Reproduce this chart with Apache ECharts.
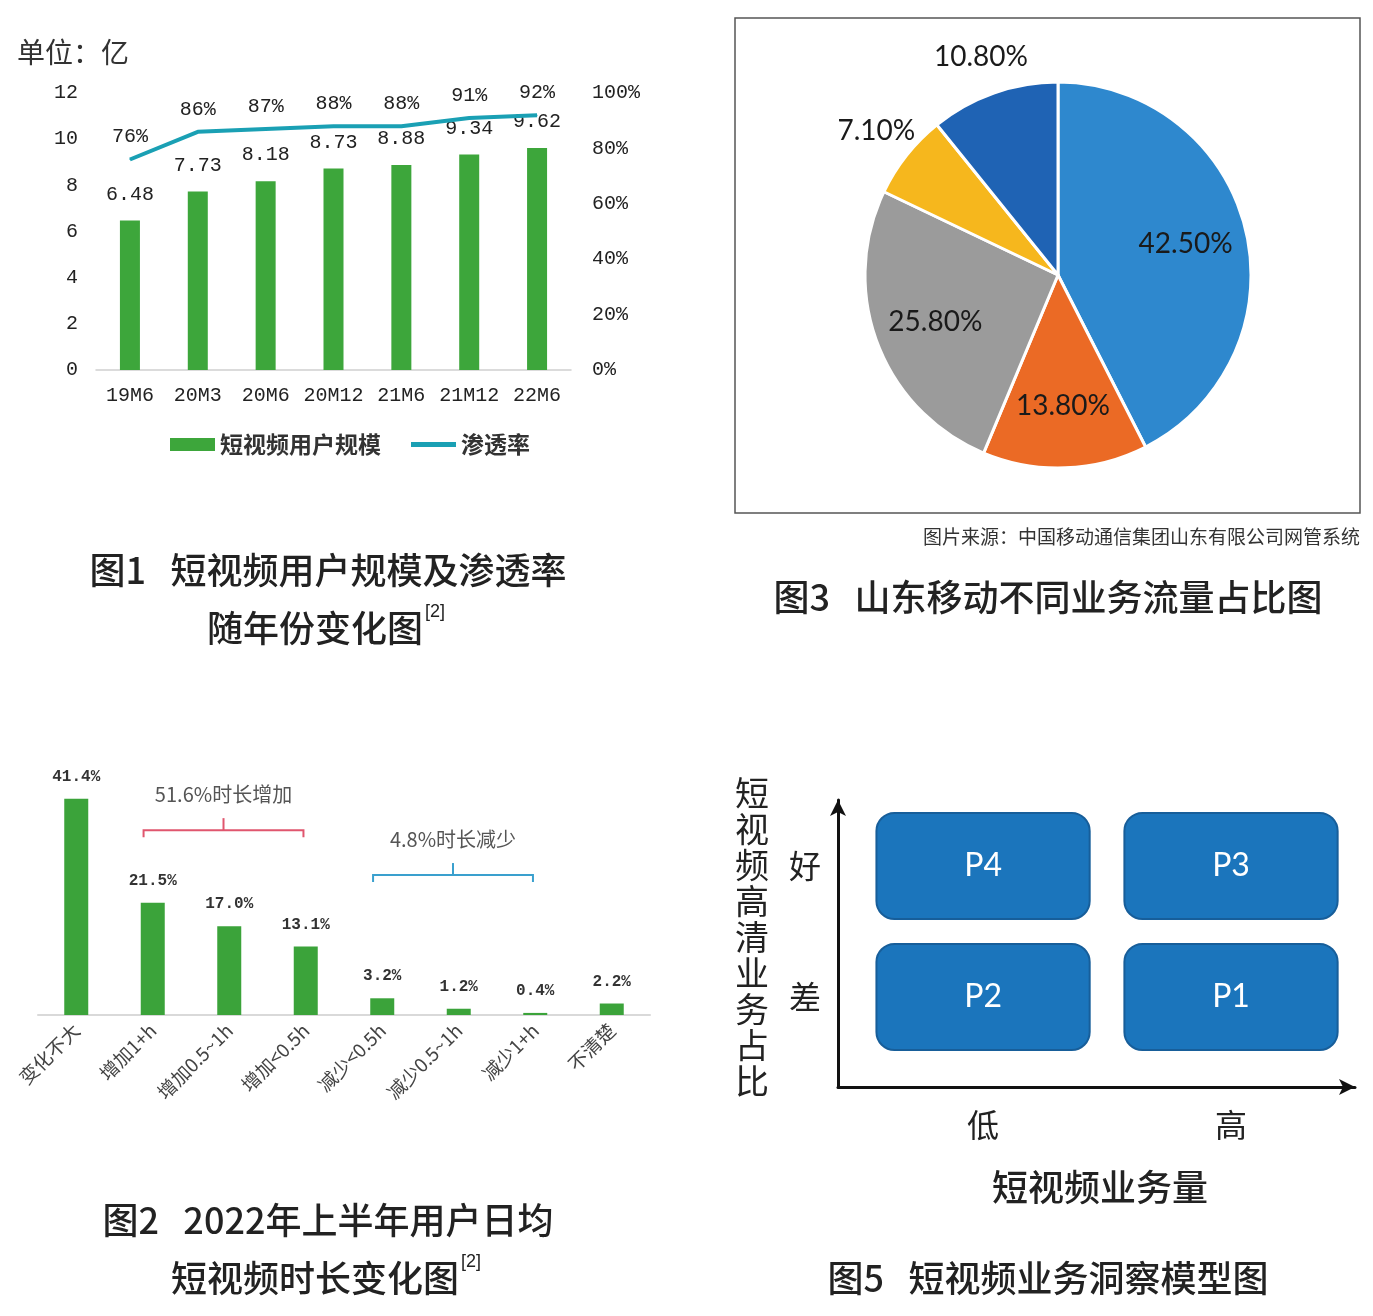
<!DOCTYPE html>
<html>
<head>
<meta charset="utf-8">
<title>短视频图表</title>
<script src="https://cdn.jsdelivr.net/npm/echarts@6/dist/echarts.min.js"></script>
<style>
  html, body { margin: 0; padding: 0; background: #fff; }
  #main { width: 1373px; height: 1316px; }
</style>
</head>
<body>
<div id="main"></div>
<script>
// 图1 data
var months = ['19M6', '20M3', '20M6', '20M12', '21M6', '21M12', '22M6'];
var userScale = [6.48, 7.73, 8.18, 8.73, 8.88, 9.34, 9.62];
var penetration = [76, 86, 87, 88, 88, 91, 92];
var scaleTicks = [0, 12, 2];

// 图2 data
var durCats = ['变化不大', '增加1+h', '增加0.5~1h', '增加<0.5h', '减少<0.5h', '减少0.5~1h', '减少1+h', '不清楚'];
var durShare = [41.4, 21.5, 17.0, 13.1, 3.2, 1.2, 0.4, 2.2];
var bracketSpans = [[1, 3], [4, 6]];
var bracketText = ['51.6%时长增加', '4.8%时长减少'];
var bracketLevel = [35.4, 26.8];

// 图3 data
var pieVals = [42.5, 13.8, 25.8, 7.1, 10.8];

// 图5 data (0 = 低/差, 1 = 高/好)
var volCats = ['低', '高'];
var hdCats = ['差', '好'];
var quadX = [0, 1, 0, 1];
var quadY = [1, 1, 0, 0];
var quadNames = ['P4', 'P3', 'P2', 'P1'];

var CJK = '"Noto Sans CJK SC"';
var MONO = '"Liberation Mono", monospace';

var pieColors = ['#2E88CE', '#EB6A25', '#9B9B9B', '#F6B71D', '#1F63B4'];
var bracketColors = ['#E0566E', '#3AA0CE'];
var pieCenter = [1058, 275];
var pieR = 193;

// mid angle of every slice, clockwise from 12 o'clock
var pieTotal = 0;
pieVals.forEach(function(v) { pieTotal += v; });
var pieMid = [];
var acc = 0;
for (var i = 0; i < pieVals.length; i++) {
    pieMid.push((acc + pieVals[i] / 2) / pieTotal * Math.PI * 2);
    acc += pieVals[i];
}

var chart = echarts.init(document.getElementById('main'));

function bracketItem(params, api) {
    var a = api.coord([api.value(0), api.value(2)]);
    var b = api.coord([api.value(1), api.value(2)]);
    var band = api.size([1, 0])[0];
    var x0 = a[0] - band * 0.12, x1 = b[0] - band * 0.03, y = a[1];
    var mid = (x0 + x1) / 2;
    var col = bracketColors[params.dataIndex];
    return {
        type: 'group',
        children: [
            { type: 'polyline', shape: { points: [[x0, y + 7], [x0, y], [x1, y], [x1, y + 7]] },
              style: { stroke: col, lineWidth: 2, fill: null } },
            { type: 'line', shape: { x1: mid, y1: y, x2: mid, y2: y - 12 },
              style: { stroke: col, lineWidth: 2 } },
            { type: 'text', x: mid, y: y - 36,
              style: { text: bracketText[params.dataIndex], font: '20px ' + CJK, fill: '#555',
                       align: 'center', verticalAlign: 'middle', textAlign: 'center', textVerticalAlign: 'middle' } }
        ]
    };
}

function quadItem(params, api) {
    var c = api.coord([api.value(0), api.value(1)]);
    var s = api.size([1, 1]);
    var w = s[0] * 0.86, h = s[1] * 0.81;
    return {
        type: 'rect',
        shape: { x: c[0] - w / 2, y: c[1] - h / 2, width: w, height: h, r: 18 },
        style: { fill: '#1B75BC', stroke: '#175E9A', lineWidth: 2 },
        textContent: { style: { text: quadNames[params.dataIndex], fill: '#fff', font: '32px Lato' } },
        textConfig: { position: 'inside' }
    };
}

function txt(x, y, s, size, align) {
    return {
        type: 'text', x: x, y: y, silent: true,
        style: { text: s, font: '500 ' + size + 'px ' + CJK, fill: '#222',
                 align: align || 'center', textAlign: align || 'center',
                 verticalAlign: 'middle', textVerticalAlign: 'middle' }
    };
}

function sup(x, y) {
    return {
        type: 'text', x: x, y: y, silent: true,
        style: { text: '[2]', font: '18px "Liberation Sans"', fill: '#222',
                 align: 'left', textAlign: 'left', verticalAlign: 'middle', textVerticalAlign: 'middle' }
    };
}

var arrowAxisLine = {
    show: true, onZero: false, symbol: ['none', 'arrow'], symbolSize: [12, 16],
    lineStyle: { color: '#111', width: 3 }
};

var option = {
    animation: false,
    textStyle: { fontFamily: CJK },
    legend: {
        left: 165, top: 428, itemWidth: 45, itemHeight: 13, itemGap: 30,
        textStyle: { fontSize: 23, color: '#333', fontWeight: 'bold', fontFamily: CJK },
        data: [
            { name: '短视频用户规模', icon: 'rect' },
            { name: '渗透率', icon: 'path://M0,0H47V5H0Z' }
        ]
    },
    grid: [
        { left: 96, right: 802, top: 93, bottom: 946, outerBoundsMode: 'none' },
        { left: 38, right: 723, top: 780, bottom: 301, outerBoundsMode: 'none' },
        { left: 838, right: 18, top: 800, bottom: 229, outerBoundsMode: 'none' }
    ],
    xAxis: [
        { type: 'category', gridIndex: 0, data: months,
          axisLine: { lineStyle: { color: '#D0D0D0', width: 1.5 } }, axisTick: { show: false },
          axisLabel: { interval: 0, margin: 16, fontSize: 20, color: '#222', fontFamily: MONO } },
        { type: 'category', gridIndex: 1, data: durCats,
          axisLine: { lineStyle: { color: '#D9D9D9', width: 2 } }, axisTick: { show: false },
          axisLabel: { interval: 0, rotate: 45, margin: 12, fontSize: 19, color: '#444', fontFamily: CJK } },
        { type: 'value', gridIndex: 2, min: -0.585, max: 1.5, position: 'bottom',
          splitLine: { show: false }, axisLine: arrowAxisLine, axisTick: { show: false },
          axisLabel: { customValues: [0, 1], margin: 22, fontSize: 32, color: '#222', fontFamily: CJK,
                       formatter: function(v) { return volCats[Math.round(v)]; } } }
    ],
    yAxis: [
        { type: 'value', gridIndex: 0, min: scaleTicks[0], max: scaleTicks[1], interval: scaleTicks[2],
          splitLine: { show: false }, axisLine: { show: false }, axisTick: { show: false },
          axisLabel: { margin: 18, fontSize: 20, color: '#222', fontFamily: MONO } },
        { type: 'value', gridIndex: 0, min: 0, max: 100, interval: 20, position: 'right',
          splitLine: { show: false }, axisLine: { show: false }, axisTick: { show: false },
          axisLabel: { margin: 21, fontSize: 20, color: '#222', fontFamily: MONO, formatter: '{value}%' } },
        { type: 'value', gridIndex: 1, min: 0, max: 45, show: false },
        { type: 'value', gridIndex: 2, min: -0.687, max: 1.504, position: 'left',
          splitLine: { show: false }, axisLine: arrowAxisLine, axisTick: { show: false },
          axisLabel: { customValues: [0, 1], margin: 17, fontSize: 32, color: '#222', fontFamily: CJK,
                       formatter: function(v) { return hdCats[Math.round(v)]; } } }
    ],
    series: [
        { name: '短视频用户规模', type: 'bar', xAxisIndex: 0, yAxisIndex: 0, data: userScale,
          barWidth: 20, itemStyle: { color: '#3DA63B' },
          label: { show: true, position: 'top', distance: 16, fontSize: 20, color: '#222', fontFamily: MONO } },
        { name: '渗透率', type: 'line', xAxisIndex: 0, yAxisIndex: 1, data: penetration,
          symbol: 'circle', symbolSize: 1, itemStyle: { color: '#1AA0B4' },
          lineStyle: { color: '#1AA0B4', width: 4 },
          label: { show: true, position: 'top', distance: 12, fontSize: 20, color: '#222',
                   fontFamily: MONO, formatter: '{c}%' } },
        { type: 'bar', xAxisIndex: 1, yAxisIndex: 2, data: durShare,
          barWidth: 24, itemStyle: { color: '#3BA33A' },
          label: { show: true, position: 'top', distance: 14, fontSize: 16, color: '#333',
                   fontFamily: MONO, fontWeight: 'bold',
                   formatter: function(p) { return p.value.toFixed(1) + '%'; } } },
        { type: 'custom', xAxisIndex: 1, yAxisIndex: 2, silent: true,
          encode: { x: [0, 1], y: 2 },
          data: bracketSpans.map(function(s, k) { return [s[0], s[1], bracketLevel[k]]; }),
          renderItem: bracketItem },
        { type: 'pie', center: pieCenter, radius: pieR, startAngle: 90, silent: true,
          data: pieVals.map(function(v, k) { return { value: v, itemStyle: { color: pieColors[k] } }; }),
          itemStyle: { borderColor: '#fff', borderWidth: 3 },
          labelLine: { show: false },
          label: { show: true, position: 'inside', fontFamily: 'Lato', fontSize: 28,
                   color: '#1a1a1a', formatter: function(p) { return p.value.toFixed(2) + '%'; } },
          labelLayout: function(p) {
              var a = pieMid[p.dataIndex];
              var k = pieVals[p.dataIndex] > 12 ? 0.68 : 1.2;
              return { x: pieCenter[0] + Math.sin(a) * pieR * k,
                       y: pieCenter[1] - Math.cos(a) * pieR * k,
                       align: 'center', verticalAlign: 'middle' };
          } },
        { type: 'custom', xAxisIndex: 2, yAxisIndex: 3, silent: true,
          encode: { x: 0, y: 1 },
          data: quadX.map(function(x, k) { return [x, quadY[k]]; }),
          renderItem: quadItem }
    ],
    graphic: [
        { type: 'text', x: 17, y: 52, silent: true,
          style: { text: '单位：亿', font: '28px ' + CJK, fill: '#333',
                   align: 'left', textAlign: 'left', verticalAlign: 'middle', textVerticalAlign: 'middle' } },
        { type: 'rect', silent: true, shape: { x: 735, y: 18, width: 625, height: 495 },
          style: { fill: 'none', stroke: '#555', lineWidth: 1.5 } },
        { type: 'text', x: 1360, y: 537, silent: true,
          style: { text: '图片来源：中国移动通信集团山东有限公司网管系统', font: '19px ' + CJK, fill: '#333',
                   align: 'right', textAlign: 'right', verticalAlign: 'middle', textVerticalAlign: 'middle' } },
        txt(328, 570, '图1   短视频用户规模及渗透率', 36),
        txt(207, 628, '随年份变化图', 36, 'left'),
        sup(425, 612),
        txt(1048, 597, '图3   山东移动不同业务流量占比图', 36),
        txt(328, 1220, '图2   2022年上半年用户日均', 36),
        txt(171, 1278, '短视频时长变化图', 36, 'left'),
        sup(461, 1262),
        txt(1048, 1278, '图5   短视频业务洞察模型图', 36),
        { type: 'text', x: 752, y: 775, silent: true,
          style: { text: '短视频高清业务占比'.split('').join('\n'), font: '34px ' + CJK, fill: '#222',
                   lineHeight: 36, align: 'center', textAlign: 'center',
                   verticalAlign: 'top', textVerticalAlign: 'top' } },
        txt(1100, 1187, '短视频业务量', 36)
    ]
};

chart.setOption(option);
</script>
</body>
</html>
